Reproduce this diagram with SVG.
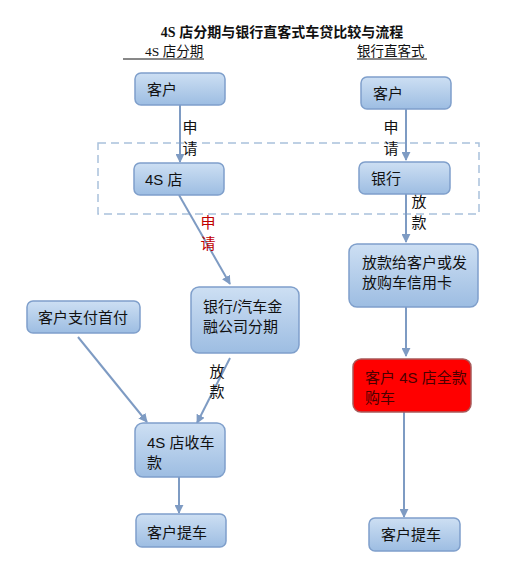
<svg xmlns="http://www.w3.org/2000/svg" width="505" height="565" viewBox="0 0 505 565">
<defs>
<linearGradient id="g" x1="0" y1="0" x2="0" y2="1">
<stop offset="0" stop-color="#cddff3"/>
<stop offset="1" stop-color="#9dbde2"/>
</linearGradient>
<marker id="a" viewBox="0 0 10 10" refX="9" refY="5" markerWidth="4.5" markerHeight="4.5" orient="auto">
<path d="M0,0 L10,5 L0,10 z" fill="#7e9bc3"/>
</marker>
<style>
.n{fill:url(#g);stroke:#7f9fcb;stroke-width:1.5}
.t{font-family:"Liberation Sans","Noto Sans CJK SC",sans-serif;font-size:15px;fill:#111}
.c{stroke:#7e9bc3;stroke-width:2;fill:none;marker-end:url(#a)}
.l{font-family:"Liberation Sans","Noto Sans CJK SC",sans-serif;font-size:15px;fill:#111;text-anchor:middle}
</style>
</defs>
<rect width="505" height="565" fill="#fff"/>
<text x="282" y="37" text-anchor="middle" font-family="Liberation Serif,'Noto Sans CJK SC',serif" font-size="14" font-weight="bold" fill="#111">4S 店分期与银行直客式车贷比较与流程</text>
<text x="145" y="56" font-family="Liberation Serif,'Noto Sans CJK SC',serif" font-size="13.5" fill="#111">4S 店分期</text>
<line x1="123" y1="59" x2="204" y2="59" stroke="#111" stroke-width="1"/>
<text x="357" y="56" font-family="Liberation Serif,'Noto Sans CJK SC',serif" font-size="13.5" fill="#111">银行直客式</text>
<line x1="357" y1="59" x2="427" y2="59" stroke="#111" stroke-width="1"/>
<rect x="98" y="143" width="381" height="71" fill="none" stroke="#a9c1dc" stroke-width="1.5" stroke-dasharray="8,5"/>
<g id="connectors">
<line class="c" x1="180" y1="105" x2="180" y2="162"/>
<line class="c" x1="406" y1="109" x2="406" y2="160"/>
<line class="c" x1="406" y1="194" x2="406" y2="242"/>
<line class="c" x1="406" y1="307" x2="406" y2="356"/>
<line class="c" x1="404" y1="412" x2="404" y2="517"/>
<line class="c" x1="179" y1="195" x2="230" y2="284"/>
<line class="c" x1="78" y1="337" x2="147" y2="422"/>
<line class="c" x1="230" y1="358" x2="197" y2="423"/>
<line class="c" x1="179" y1="477" x2="179" y2="513"/>
<text class="l" x="190" y="133">申</text>
<text class="l" x="190" y="154">请</text>
<text class="l" x="391" y="133">申</text>
<text class="l" x="391" y="154">请</text>
<text class="l" x="419" y="207">放</text>
<text class="l" x="419" y="228">款</text>
<text class="l" x="208" y="228" style="fill:#c00000">申</text>
<text class="l" x="208" y="249" style="fill:#c00000">请</text>
<text class="l" x="217" y="377">放</text>
<text class="l" x="217" y="397">款</text>
</g>
<g id="n1"><rect class="n" x="135" y="73" width="90" height="32" rx="6"/><text class="t" x="147" y="95">客户</text></g>
<g id="n2"><rect class="n" x="361" y="77" width="90" height="32" rx="6"/><text class="t" x="373" y="99">客户</text></g>
<g id="n3"><rect class="n" x="134" y="163" width="90" height="32" rx="6"/><text class="t" x="145" y="185">4S 店</text></g>
<g id="n4"><rect class="n" x="359" y="162" width="91" height="32" rx="6"/><text class="t" x="371" y="184">银行</text></g>
<g id="n5"><rect class="n" x="349" y="244" width="129" height="63" rx="8"/><text class="t" x="362" y="268">放款给客户或发</text><text class="t" x="362" y="288">放购车信用卡</text></g>
<g id="n6"><rect x="353" y="359" width="118" height="53" rx="8" fill="#ff0000" stroke="#a85a5a" stroke-width="1.5"/><text class="t" x="365" y="383" style="fill:#4a0000">客户 4S 店全款</text><text class="t" x="365" y="403" style="fill:#4a0000">购车</text></g>
<g id="n7"><rect class="n" x="369" y="518" width="91" height="33" rx="6"/><text class="t" x="381" y="540">客户提车</text></g>
<g id="n8"><rect class="n" x="191" y="287" width="108" height="66" rx="8"/><text class="t" x="203" y="312">银行/汽车金</text><text class="t" x="203" y="332">融公司分期</text></g>
<g id="n9"><rect class="n" x="27" y="301" width="113" height="32" rx="6"/><text class="t" x="38" y="323">客户支付首付</text></g>
<g id="n10"><rect class="n" x="135" y="423" width="90" height="54" rx="8"/><text class="t" x="147" y="448">4S 店收车</text><text class="t" x="147" y="468">款</text></g>
<g id="n11"><rect class="n" x="136" y="514" width="90" height="33" rx="6"/><text class="t" x="147" y="538">客户提车</text></g>
</svg>
